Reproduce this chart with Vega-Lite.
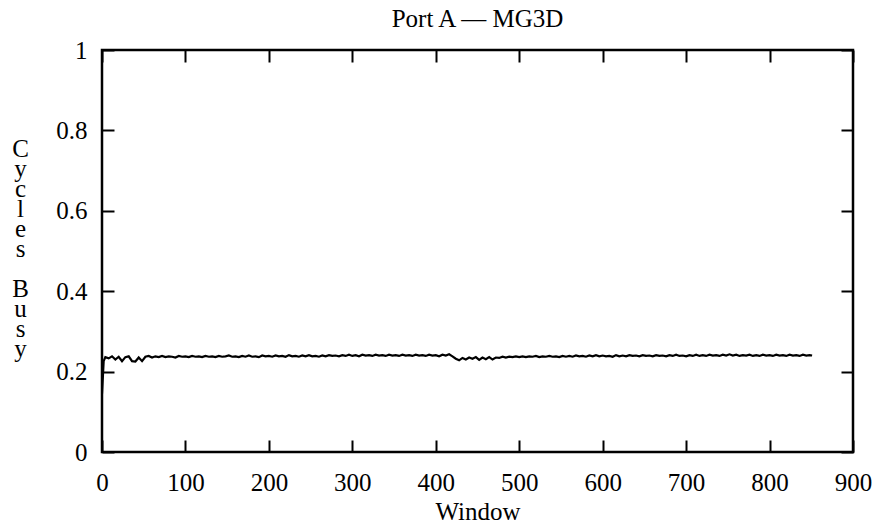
{
  "$schema": "https://vega.github.io/schema/vega-lite/v6.json",
  "width": 751,
  "height": 402,
  "autosize": {"type": "none"},
  "padding": {"left": 102, "top": 50, "right": 24, "bottom": 77},
  "background": "white",
  "config": {
    "font": "Liberation Serif",
    "view": {"stroke": "black", "strokeWidth": 2.5},
    "axis": {
      "domain": false,
      "grid": false,
      "ticks": true,
      "tickColor": "black",
      "tickWidth": 2,
      "tickSize": -12,
      "labelFont": "Liberation Serif",
      "labelFontSize": 25,
      "labelColor": "black",
      "titleFont": "Liberation Serif",
      "titleFontSize": 25,
      "titleFontWeight": "normal",
      "titleColor": "black"
    }
  },
  "title": {
    "text": "Port A — MG3D",
    "font": "Liberation Serif",
    "fontSize": 25,
    "fontWeight": "normal",
    "color": "black",
    "anchor": "middle",
    "baseline": "alphabetic",
    "offset": 22,
    "dy": 36
  },
  "data": {
    "values": [
      {"window": 0, "busy": 0.145}, {"window": 2, "busy": 0.226}, {"window": 4, "busy": 0.236}, {"window": 8, "busy": 0.233},
      {"window": 12, "busy": 0.238}, {"window": 16, "busy": 0.230}, {"window": 20, "busy": 0.237}, {"window": 24, "busy": 0.226},
      {"window": 28, "busy": 0.236}, {"window": 32, "busy": 0.238}, {"window": 36, "busy": 0.226}, {"window": 40, "busy": 0.225},
      {"window": 44, "busy": 0.235}, {"window": 48, "busy": 0.226}, {"window": 52, "busy": 0.237}, {"window": 56, "busy": 0.239},
      {"window": 60, "busy": 0.235}, {"window": 64, "busy": 0.238}, {"window": 68, "busy": 0.236}, {"window": 72, "busy": 0.239},
      {"window": 76, "busy": 0.236}, {"window": 80, "busy": 0.238}, {"window": 84, "busy": 0.237}, {"window": 88, "busy": 0.235},
      {"window": 92, "busy": 0.239}, {"window": 96, "busy": 0.237}, {"window": 100, "busy": 0.238}, {"window": 104, "busy": 0.236},
      {"window": 108, "busy": 0.239}, {"window": 112, "busy": 0.237}, {"window": 116, "busy": 0.238}, {"window": 120, "busy": 0.236},
      {"window": 124, "busy": 0.239}, {"window": 128, "busy": 0.237}, {"window": 132, "busy": 0.238}, {"window": 136, "busy": 0.236},
      {"window": 140, "busy": 0.239}, {"window": 144, "busy": 0.237}, {"window": 148, "busy": 0.238}, {"window": 152, "busy": 0.240},
      {"window": 156, "busy": 0.237}, {"window": 160, "busy": 0.238}, {"window": 164, "busy": 0.236}, {"window": 168, "busy": 0.239},
      {"window": 172, "busy": 0.237}, {"window": 176, "busy": 0.240}, {"window": 180, "busy": 0.237}, {"window": 184, "busy": 0.238},
      {"window": 188, "busy": 0.236}, {"window": 192, "busy": 0.240}, {"window": 196, "busy": 0.238}, {"window": 200, "busy": 0.239},
      {"window": 204, "busy": 0.237}, {"window": 208, "busy": 0.240}, {"window": 212, "busy": 0.238}, {"window": 216, "busy": 0.239},
      {"window": 220, "busy": 0.237}, {"window": 224, "busy": 0.241}, {"window": 228, "busy": 0.238}, {"window": 232, "busy": 0.239},
      {"window": 236, "busy": 0.237}, {"window": 240, "busy": 0.240}, {"window": 244, "busy": 0.238}, {"window": 248, "busy": 0.241},
      {"window": 252, "busy": 0.238}, {"window": 256, "busy": 0.239}, {"window": 260, "busy": 0.237}, {"window": 264, "busy": 0.240},
      {"window": 268, "busy": 0.238}, {"window": 272, "busy": 0.241}, {"window": 276, "busy": 0.239}, {"window": 280, "busy": 0.240},
      {"window": 284, "busy": 0.238}, {"window": 288, "busy": 0.241}, {"window": 292, "busy": 0.239}, {"window": 296, "busy": 0.242},
      {"window": 300, "busy": 0.239}, {"window": 304, "busy": 0.241}, {"window": 308, "busy": 0.238}, {"window": 312, "busy": 0.242},
      {"window": 316, "busy": 0.240}, {"window": 320, "busy": 0.241}, {"window": 324, "busy": 0.239}, {"window": 328, "busy": 0.242},
      {"window": 332, "busy": 0.240}, {"window": 336, "busy": 0.241}, {"window": 340, "busy": 0.239}, {"window": 344, "busy": 0.242},
      {"window": 348, "busy": 0.240}, {"window": 352, "busy": 0.241}, {"window": 356, "busy": 0.239}, {"window": 360, "busy": 0.242},
      {"window": 364, "busy": 0.240}, {"window": 368, "busy": 0.241}, {"window": 372, "busy": 0.239}, {"window": 376, "busy": 0.242},
      {"window": 380, "busy": 0.240}, {"window": 384, "busy": 0.241}, {"window": 388, "busy": 0.239}, {"window": 392, "busy": 0.242},
      {"window": 396, "busy": 0.240}, {"window": 400, "busy": 0.241}, {"window": 404, "busy": 0.238}, {"window": 408, "busy": 0.242},
      {"window": 412, "busy": 0.240}, {"window": 416, "busy": 0.243}, {"window": 420, "busy": 0.238}, {"window": 424, "busy": 0.232},
      {"window": 428, "busy": 0.228}, {"window": 432, "busy": 0.234}, {"window": 436, "busy": 0.230}, {"window": 440, "busy": 0.235},
      {"window": 444, "busy": 0.232}, {"window": 448, "busy": 0.236}, {"window": 452, "busy": 0.229}, {"window": 456, "busy": 0.235},
      {"window": 460, "busy": 0.231}, {"window": 464, "busy": 0.236}, {"window": 468, "busy": 0.230}, {"window": 472, "busy": 0.235},
      {"window": 476, "busy": 0.234}, {"window": 480, "busy": 0.237}, {"window": 484, "busy": 0.235}, {"window": 488, "busy": 0.237},
      {"window": 492, "busy": 0.236}, {"window": 496, "busy": 0.238}, {"window": 500, "busy": 0.236}, {"window": 504, "busy": 0.238},
      {"window": 508, "busy": 0.236}, {"window": 512, "busy": 0.238}, {"window": 516, "busy": 0.237}, {"window": 520, "busy": 0.239},
      {"window": 524, "busy": 0.236}, {"window": 528, "busy": 0.238}, {"window": 532, "busy": 0.237}, {"window": 536, "busy": 0.239},
      {"window": 540, "busy": 0.237}, {"window": 544, "busy": 0.238}, {"window": 548, "busy": 0.236}, {"window": 552, "busy": 0.239},
      {"window": 556, "busy": 0.237}, {"window": 560, "busy": 0.239}, {"window": 564, "busy": 0.237}, {"window": 568, "busy": 0.240},
      {"window": 572, "busy": 0.238}, {"window": 576, "busy": 0.239}, {"window": 580, "busy": 0.237}, {"window": 584, "busy": 0.240},
      {"window": 588, "busy": 0.238}, {"window": 592, "busy": 0.241}, {"window": 596, "busy": 0.238}, {"window": 600, "busy": 0.240},
      {"window": 604, "busy": 0.238}, {"window": 608, "busy": 0.239}, {"window": 612, "busy": 0.237}, {"window": 616, "busy": 0.241},
      {"window": 620, "busy": 0.238}, {"window": 624, "busy": 0.240}, {"window": 628, "busy": 0.238}, {"window": 632, "busy": 0.241},
      {"window": 636, "busy": 0.239}, {"window": 640, "busy": 0.240}, {"window": 644, "busy": 0.238}, {"window": 648, "busy": 0.241},
      {"window": 652, "busy": 0.239}, {"window": 656, "busy": 0.240}, {"window": 660, "busy": 0.238}, {"window": 664, "busy": 0.241},
      {"window": 668, "busy": 0.239}, {"window": 672, "busy": 0.240}, {"window": 676, "busy": 0.238}, {"window": 680, "busy": 0.241},
      {"window": 684, "busy": 0.239}, {"window": 688, "busy": 0.242}, {"window": 692, "busy": 0.239}, {"window": 696, "busy": 0.240},
      {"window": 700, "busy": 0.238}, {"window": 704, "busy": 0.241}, {"window": 708, "busy": 0.239}, {"window": 712, "busy": 0.242},
      {"window": 716, "busy": 0.239}, {"window": 720, "busy": 0.241}, {"window": 724, "busy": 0.239}, {"window": 728, "busy": 0.242},
      {"window": 732, "busy": 0.240}, {"window": 736, "busy": 0.241}, {"window": 740, "busy": 0.239}, {"window": 744, "busy": 0.242},
      {"window": 748, "busy": 0.240}, {"window": 752, "busy": 0.243}, {"window": 756, "busy": 0.240}, {"window": 760, "busy": 0.242},
      {"window": 764, "busy": 0.239}, {"window": 768, "busy": 0.241}, {"window": 772, "busy": 0.240}, {"window": 776, "busy": 0.242},
      {"window": 780, "busy": 0.239}, {"window": 784, "busy": 0.241}, {"window": 788, "busy": 0.239}, {"window": 792, "busy": 0.242},
      {"window": 796, "busy": 0.240}, {"window": 800, "busy": 0.241}, {"window": 804, "busy": 0.239}, {"window": 808, "busy": 0.242},
      {"window": 812, "busy": 0.240}, {"window": 816, "busy": 0.241}, {"window": 820, "busy": 0.239}, {"window": 824, "busy": 0.242},
      {"window": 828, "busy": 0.240}, {"window": 832, "busy": 0.241}, {"window": 836, "busy": 0.239}, {"window": 840, "busy": 0.242},
      {"window": 844, "busy": 0.240}, {"window": 848, "busy": 0.241}, {"window": 851, "busy": 0.240}
    ]
  },
  "layer": [
    {
      "mark": {"type": "line", "color": "black", "strokeWidth": 2.2, "clip": true},
      "encoding": {
        "x": {
          "field": "window", "type": "quantitative",
          "scale": {"domain": [0, 900], "nice": false, "zero": false},
          "axis": {
            "orient": "bottom",
            "values": [0, 100, 200, 300, 400, 500, 600, 700, 800, 900],
            "format": "d",
            "labelBaseline": "alphabetic",
            "labelPadding": 50,
            "labelFlush": false,
            "labelOverlap": false,
            "title": "Window",
            "titleBaseline": "alphabetic",
            "titleY": 67
          }
        },
        "y": {
          "field": "busy", "type": "quantitative",
          "scale": {"domain": [0, 1], "nice": false, "zero": false},
          "axis": {
            "orient": "left",
            "values": [0, 0.2, 0.4, 0.6, 0.8, 1],
            "format": "~g",
            "labelPadding": 27,
            "labelBaseline": "middle",
            "labelFlush": false,
            "labelOverlap": false,
            "title": ["C", "y", "c", "l", "e", "s", "\u200b", "B", "u", "s", "y"],
            "titleAngle": 0,
            "titleAlign": "center",
            "titleBaseline": "alphabetic",
            "titleLineHeight": 20,
            "titleX": -82,
            "titleY": 106
          }
        }
      }
    },
    {
      "mark": {"type": "line", "strokeOpacity": 0},
      "encoding": {
        "x": {
          "field": "window", "type": "quantitative",
          "scale": {"domain": [0, 900], "nice": false, "zero": false},
          "axis": {"orient": "top", "values": [0, 100, 200, 300, 400, 500, 600, 700, 800, 900], "labels": false, "title": null}
        },
        "y": {
          "field": "busy", "type": "quantitative",
          "scale": {"domain": [0, 1], "nice": false, "zero": false},
          "axis": {"orient": "right", "values": [0, 0.2, 0.4, 0.6, 0.8, 1], "labels": false, "title": null}
        }
      }
    }
  ],
  "resolve": {"axis": {"x": "independent", "y": "independent"}}
}
